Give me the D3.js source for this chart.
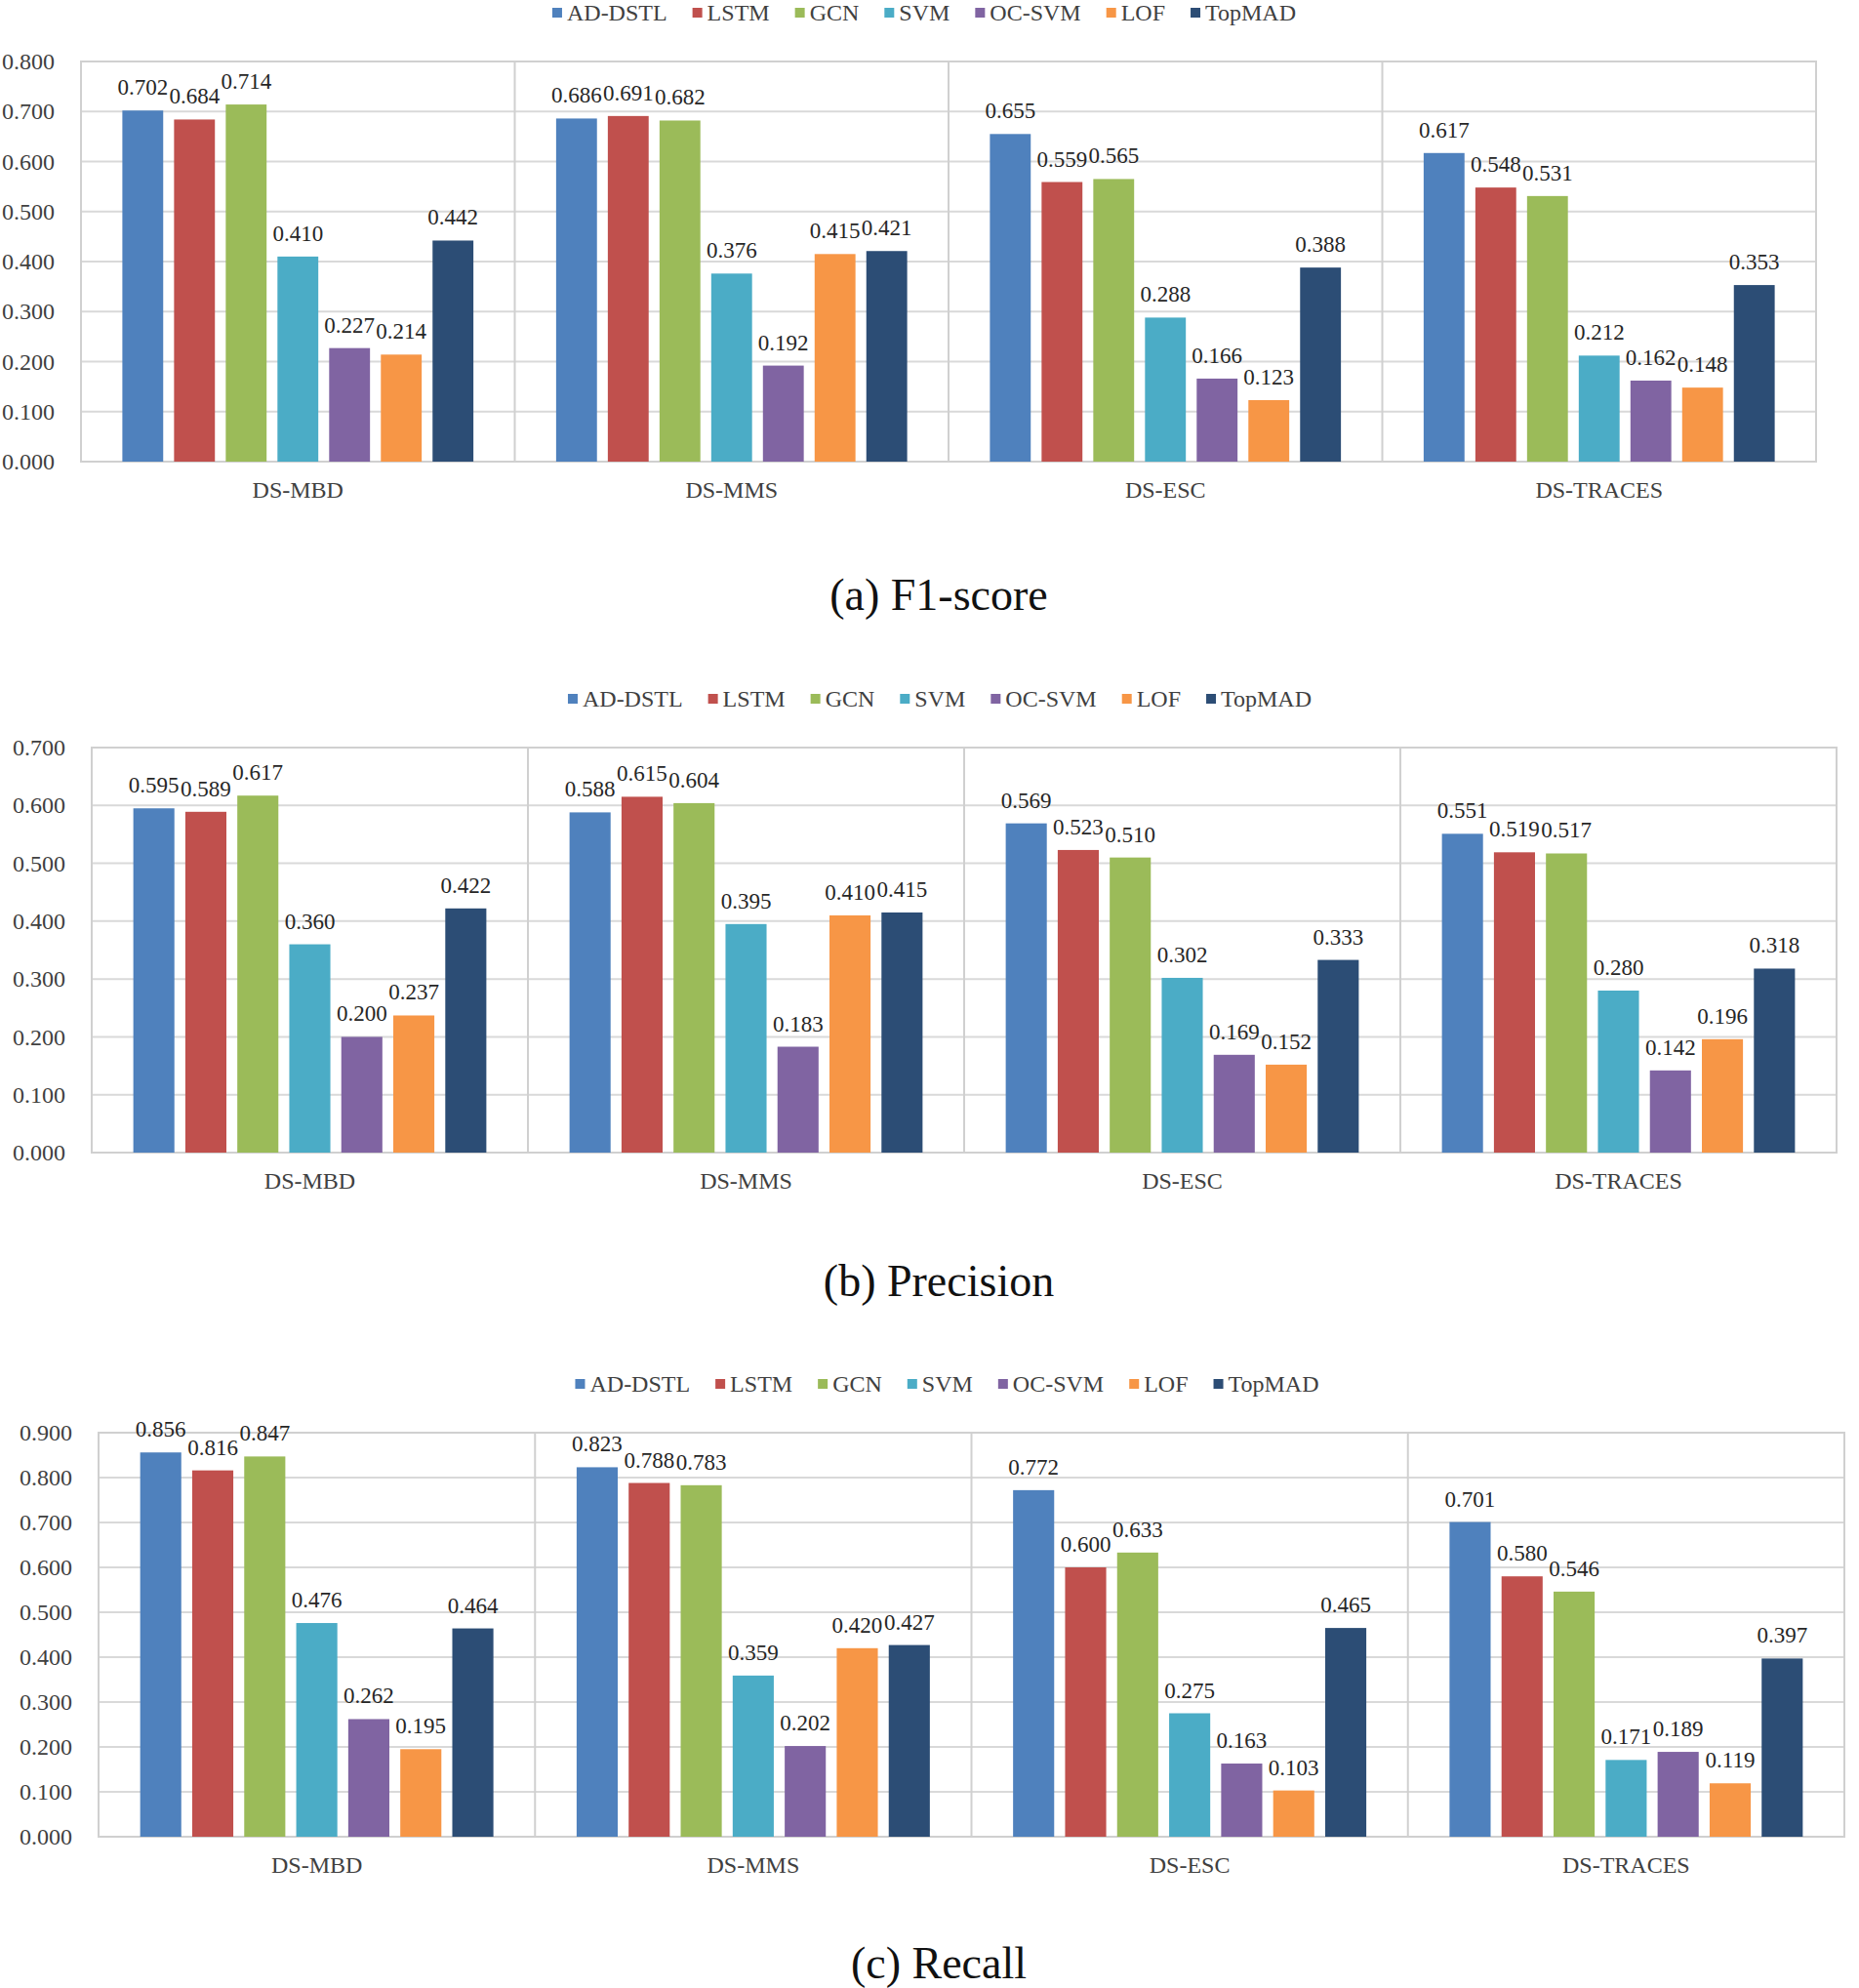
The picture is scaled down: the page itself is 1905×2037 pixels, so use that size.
<!DOCTYPE html>
<html>
<head>
<meta charset="utf-8">
<script src="https://cdn.jsdelivr.net/npm/d3@7"></script>
<style>
  body { margin: 0; background: #fff; }
  text { font-family: "Liberation Serif", "Times New Roman", serif; }
</style>
</head>
<body>
<div id="chart"></div>
<script>
// Methods (legend order) and datasets (x categories)
var methods = ['AD-DSTL', 'LSTM', 'GCN', 'SVM', 'OC-SVM', 'LOF', 'TopMAD'];
var datasets = ['DS-MBD', 'DS-MMS', 'DS-ESC', 'DS-TRACES'];
var methodColors = ['#4F81BD', '#C0504D', '#9BBB59', '#4BACC6', '#8064A2', '#F79646', '#2C4D75'];

// One row per dataset, one value per method
var f1Values = [
    [0.702, 0.684, 0.714, 0.410, 0.227, 0.214, 0.442],
    [0.686, 0.691, 0.682, 0.376, 0.192, 0.415, 0.421],
    [0.655, 0.559, 0.565, 0.288, 0.166, 0.123, 0.388],
    [0.617, 0.548, 0.531, 0.212, 0.162, 0.148, 0.353]
];
var precisionValues = [
    [0.595, 0.589, 0.617, 0.360, 0.200, 0.237, 0.422],
    [0.588, 0.615, 0.604, 0.395, 0.183, 0.410, 0.415],
    [0.569, 0.523, 0.510, 0.302, 0.169, 0.152, 0.333],
    [0.551, 0.519, 0.517, 0.280, 0.142, 0.196, 0.318]
];
var recallValues = [
    [0.856, 0.816, 0.847, 0.476, 0.262, 0.195, 0.464],
    [0.823, 0.788, 0.783, 0.359, 0.202, 0.420, 0.427],
    [0.772, 0.600, 0.633, 0.275, 0.163, 0.103, 0.465],
    [0.701, 0.580, 0.546, 0.171, 0.189, 0.119, 0.397]
];

// Y axis tick labels for each panel
var f1Ticks = [0, 0.1, 0.2, 0.3, 0.4, 0.5, 0.6, 0.7, 0.8];
var precisionTicks = [0, 0.1, 0.2, 0.3, 0.4, 0.5, 0.6, 0.7];
var recallTicks = [0, 0.1, 0.2, 0.3, 0.4, 0.5, 0.6, 0.7, 0.8, 0.9];

var captions = ['(a) F1-score', '(b) Precision', '(c) Recall'];

const width = 1905;
const height = 2037;

// Layout of the three panels (plot area box + caption baseline)
var panels = [
    {values: f1Values, ticks: f1Ticks, caption: captions[0], left: 83, right: 1861, top: 63, bottom: 473, captionY: 625},
    {values: precisionValues, ticks: precisionTicks, caption: captions[1], left: 94, right: 1882, top: 766, bottom: 1181, captionY: 1328},
    {values: recallValues, ticks: recallTicks, caption: captions[2], left: 101, right: 1890, top: 1468, bottom: 1882, captionY: 2027}
];

const svg = d3.select('#chart').append('svg')
    .attr('width', width)
    .attr('height', height);

panels.forEach(drawPanel);

function drawPanel(p) {
    var g = svg.append('g');

    var y = d3.scaleLinear()
        .domain([0, d3.max(p.ticks)])
        .range([p.bottom, p.top]);

    var x0 = d3.scaleBand()
        .domain(datasets)
        .range([p.left, p.right]);

    var x1 = d3.scaleBand()
        .domain(methods)
        .range([0, x0.bandwidth()])
        .paddingInner(0.21)
        .paddingOuter(0.8);

    // Horizontal gridlines
    g.selectAll('line.grid')
        .data(p.ticks.filter(t => t > 0))
        .enter().append('line')
        .attr('class', 'grid')
        .attr('x1', p.left)
        .attr('x2', p.right)
        .attr('y1', d => y(d))
        .attr('y2', d => y(d))
        .attr('stroke', '#D9D9D9')
        .attr('stroke-width', 2);

    // Vertical separators between datasets
    g.selectAll('line.sep')
        .data(datasets.slice(1))
        .enter().append('line')
        .attr('class', 'sep')
        .attr('x1', d => x0(d))
        .attr('x2', d => x0(d))
        .attr('y1', p.top)
        .attr('y2', p.bottom)
        .attr('stroke', '#D0D0D0')
        .attr('stroke-width', 2);

    // Plot area border
    g.append('rect')
        .attr('x', p.left)
        .attr('y', p.top)
        .attr('width', p.right - p.left)
        .attr('height', p.bottom - p.top)
        .attr('fill', 'none')
        .attr('stroke', '#D0D0D0')
        .attr('stroke-width', 2);

    // Bars
    var groups = g.selectAll('g.group')
        .data(datasets)
        .enter().append('g')
        .attr('class', 'group')
        .attr('transform', d => `translate(${x0(d)},0)`);

    groups.selectAll('rect')
        .data((d, i) => p.values[i].map((v, j) => ({method: methods[j], value: v, color: methodColors[j]})))
        .enter().append('rect')
        .attr('x', d => x1(d.method))
        .attr('y', d => y(d.value))
        .attr('width', x1.bandwidth())
        .attr('height', d => y(0) - y(d.value))
        .attr('fill', d => d.color);

    // Value labels above the bars
    groups.selectAll('text.val')
        .data((d, i) => p.values[i].map((v, j) => ({method: methods[j], value: v})))
        .enter().append('text')
        .attr('class', 'val')
        .attr('x', d => x1(d.method) + x1.bandwidth() / 2)
        .attr('y', d => y(d.value) - 16)
        .attr('text-anchor', 'middle')
        .style('font-size', '23px')
        .attr('fill', '#262626')
        .text(d => d3.format('.3f')(d.value));

    // Y axis labels
    var yAxis = g.append('g')
        .attr('transform', `translate(${p.left},0)`)
        .call(d3.axisLeft(y).tickValues(p.ticks).tickFormat(d3.format('.3f')).tickSize(0).tickPadding(27));
    yAxis.select('.domain').remove();
    yAxis.selectAll('text')
        .style('font-family', '"Liberation Serif", serif')
        .style('font-size', '24px')
        .attr('fill', '#404040');

    // X axis labels
    var xAxis = g.append('g')
        .attr('transform', `translate(0,${p.bottom})`)
        .call(d3.axisBottom(x0).tickSize(0).tickPadding(20));
    xAxis.select('.domain').remove();
    xAxis.selectAll('text')
        .style('font-family', '"Liberation Serif", serif')
        .style('font-size', '24px')
        .attr('fill', '#404040');

    // Legend, laid out left to right then centred
    var legend = g.append('g');
    var cursor = 0;
    methods.forEach(function(m, i) {
        var item = legend.append('g').attr('transform', `translate(${cursor},0)`);
        item.append('rect')
            .attr('x', 0)
            .attr('y', -5)
            .attr('width', 10)
            .attr('height', 10)
            .attr('fill', methodColors[i]);
        var t = item.append('text')
            .attr('x', 15)
            .attr('y', 8)
            .style('font-size', '24px')
            .attr('fill', '#404040')
            .text(m);
        cursor += 15 + t.node().getComputedTextLength() + 26;
    });
    var legendWidth = cursor - 26;
    var legendCenter = (p.left + p.right) / 2 - 25;
    legend.attr('transform', `translate(${legendCenter - legendWidth / 2},${p.top - 50})`);

    // Caption below the panel
    g.append('text')
        .attr('x', 962)
        .attr('y', p.captionY)
        .attr('text-anchor', 'middle')
        .style('font-size', '46px')
        .attr('fill', '#111')
        .text(p.caption);
}
</script>
</body>
</html>
